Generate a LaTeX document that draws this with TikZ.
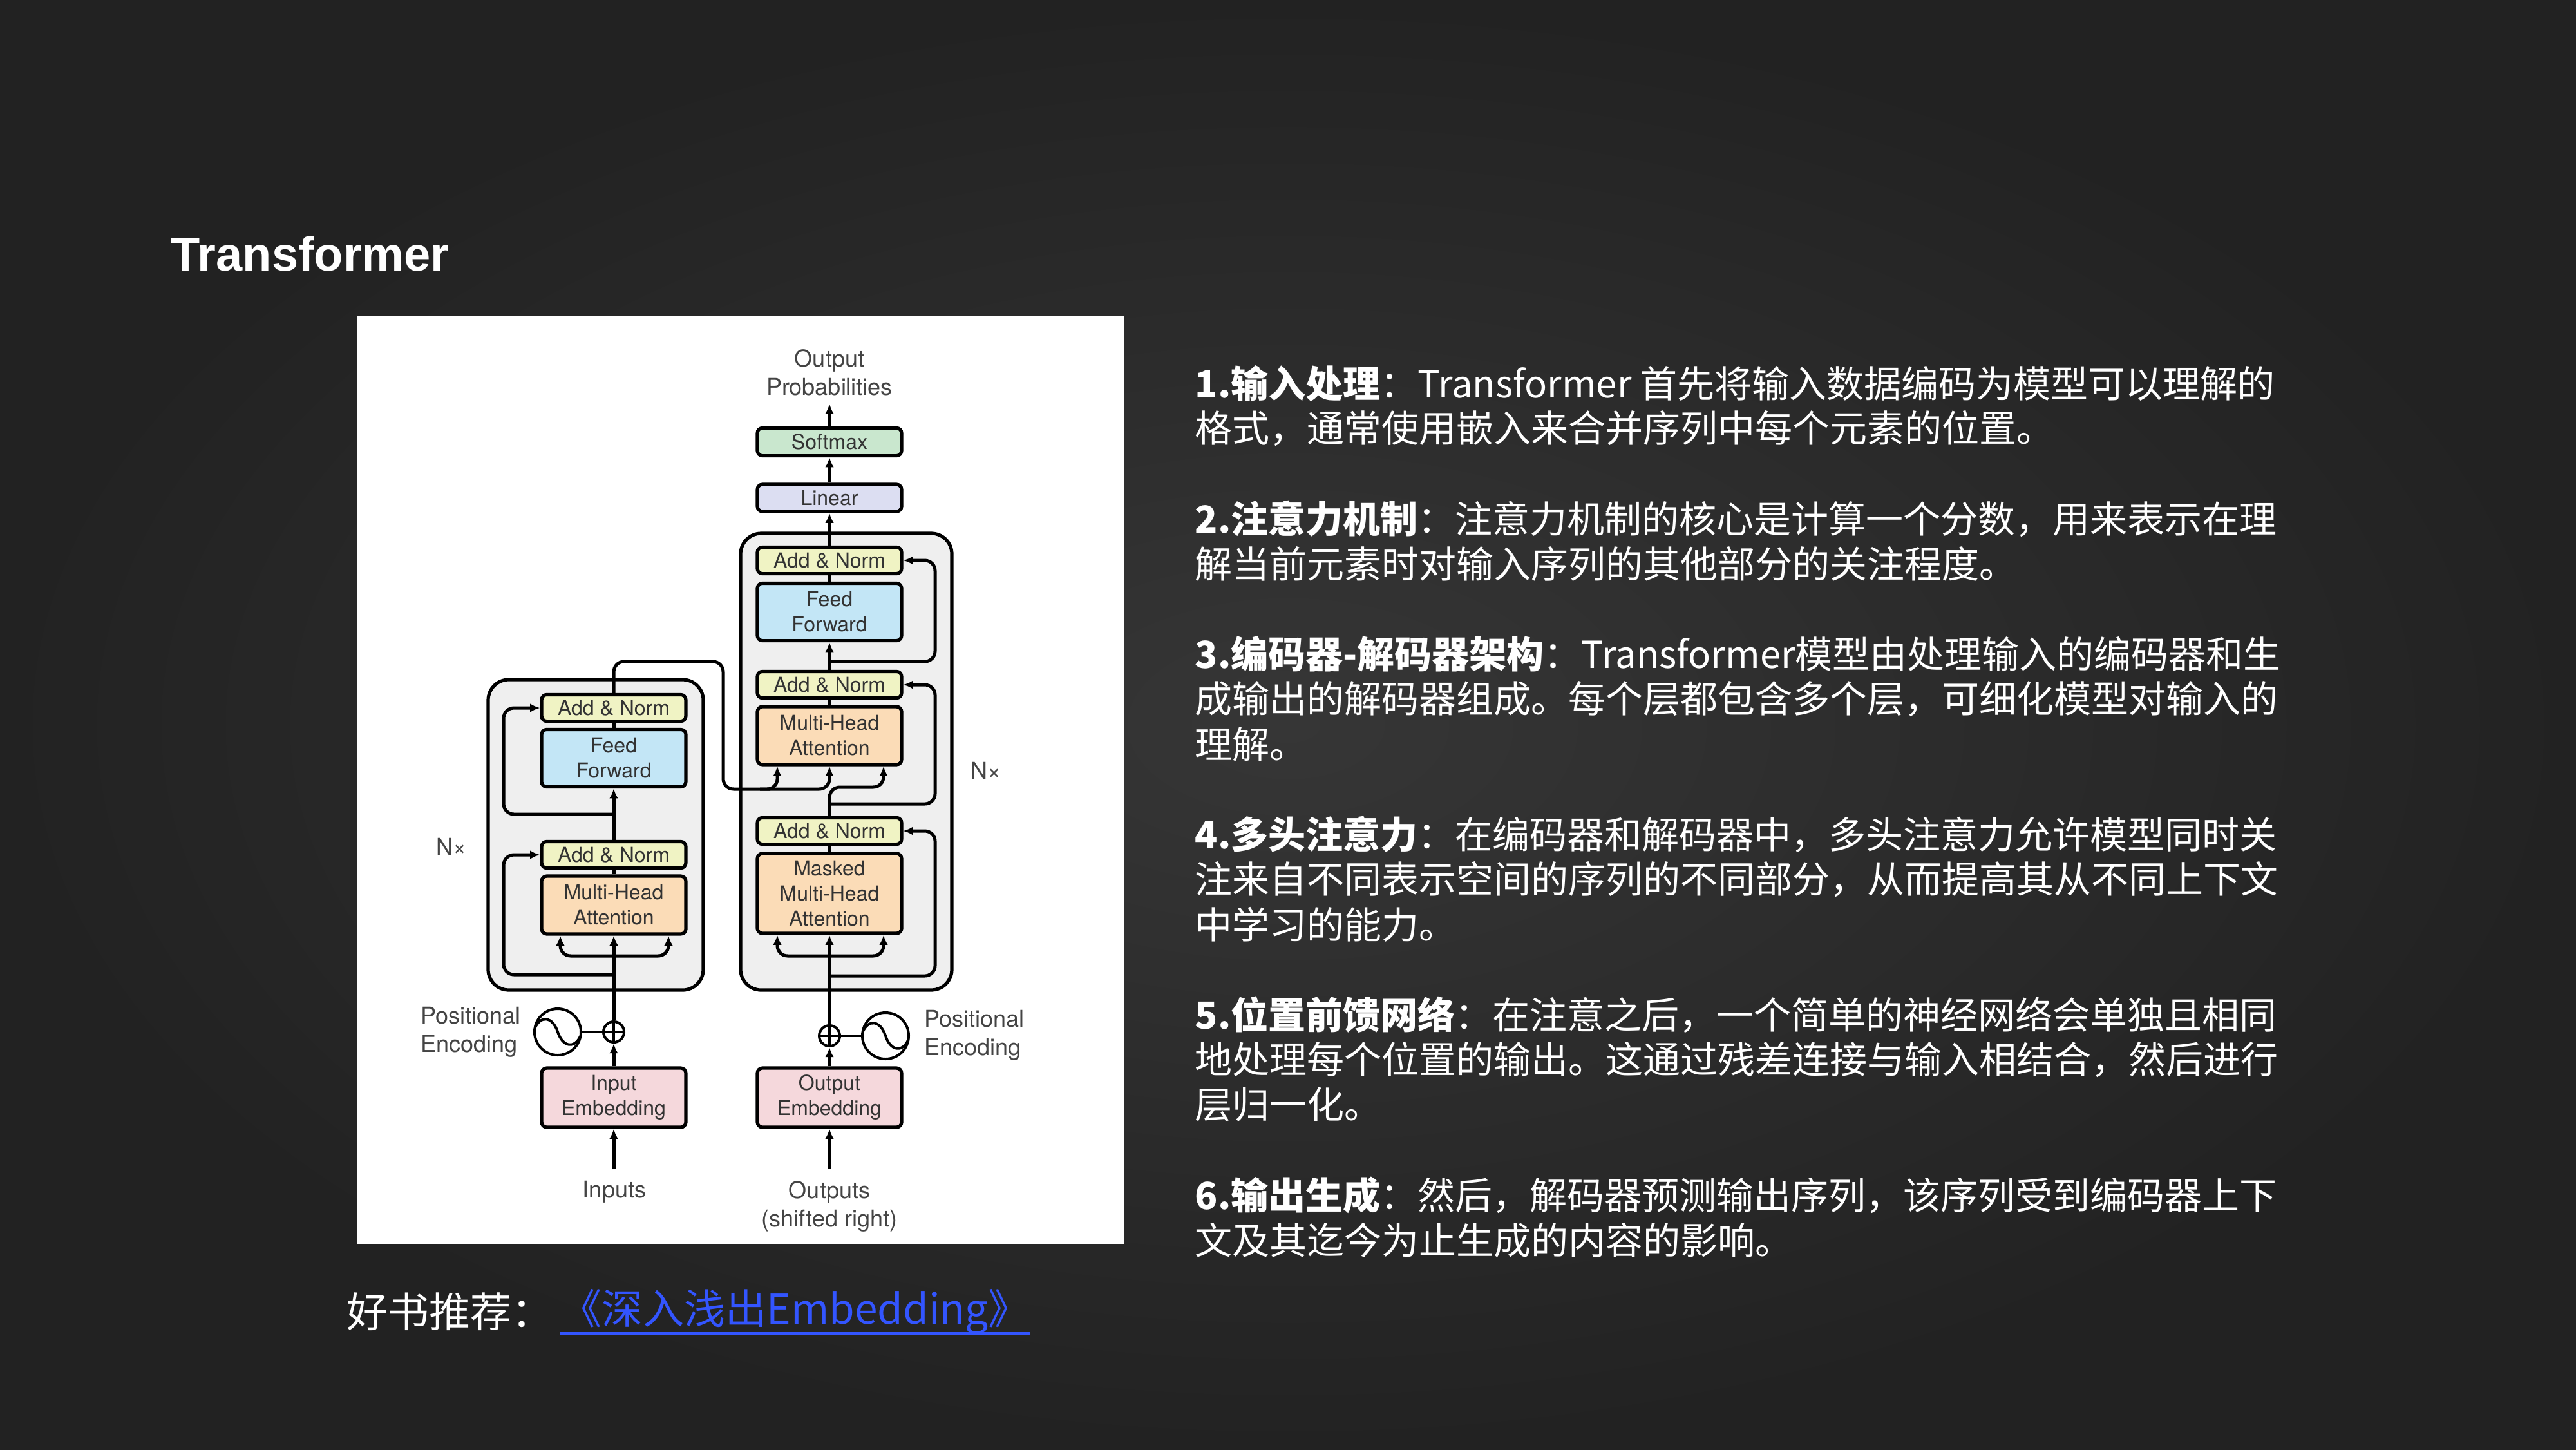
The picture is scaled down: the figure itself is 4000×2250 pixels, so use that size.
\documentclass[tikz,border=0pt]{standalone}
\usepackage{fontspec}
\setmainfont{TeX Gyre Heros}
\newfontfamily\cjk{Noto Sans CJK SC}
\newfontfamily\titlefont{Liberation Sans}
\newfontfamily\diag{TeX Gyre Heros}
\usetikzlibrary{arrows.meta,calc}
\definecolor{bgin}{HTML}{363636}
\definecolor{bgout}{HTML}{222222}
\definecolor{anc}{HTML}{F0F3C4}
\definecolor{ffc}{HTML}{C3E6F6}
\definecolor{attc}{HTML}{FBDCB7}
\definecolor{smc}{HTML}{C9E7CE}
\definecolor{linc}{HTML}{DCDEF2}
\definecolor{embc}{HTML}{F5D8DC}
\definecolor{blkc}{HTML}{EFEFEF}
\definecolor{txtc}{HTML}{333333}
\definecolor{lblc}{HTML}{444444}
\definecolor{linkc}{HTML}{3355FF}
\begin{document}
\begin{tikzpicture}[x=0.25pt,y=-0.25pt,
  lw/.style={line width=1.25pt},
  arr/.style={line width=1.25pt,-{Latex[length=3.8pt,width=3.4pt]}},
  rc/.style={rounded corners=4pt},
  blk/.style={draw=black, line width=1.3pt, rounded corners=2pt, minimum width=56pt, inner sep=0pt, align=center, text=txtc, font=\diag\fontsize{8}{9.75}\selectfont},
  anbox/.style={blk, fill=anc, minimum height=10.3pt},
  ffbox/.style={blk, fill=ffc, minimum height=22.3pt},
  attbox/.style={blk, fill=attc, minimum height=22.5pt},
  mattbox/.style={blk, fill=attc, minimum height=31pt},
  smbox/.style={blk, fill=smc, minimum height=10.8pt},
  linbox/.style={blk, fill=linc, minimum height=10.5pt},
  embbox/.style={blk, fill=embc, minimum height=23pt},
  outerbox/.style={draw=black, line width=1.3pt, fill=blkc, rounded corners=8pt, inner sep=0pt},
  lbl/.style={text=lblc, font=\diag\fontsize{9}{11}\selectfont, inner sep=0pt, align=center},
  plusnode/.style={circle, draw=black, line width=1pt, fill=white, minimum size=8pt, inner sep=0pt},
  penode/.style={circle, draw=black, line width=1pt, fill=white, minimum size=18pt, inner sep=0pt},
  para/.style={anchor=west, inner sep=0pt, text=white, font=\cjk\fontsize{14.5}{17.6}\selectfont},
]
% background
\shade[inner color=bgin, outer color=bgout] (0,0) rectangle (4000,2250);
\useasboundingbox (0,0) rectangle (4000,2250);

% title
\node[anchor=base west, inner sep=0pt, text=white, font=\titlefont\bfseries\fontsize{18.5}{22}\selectfont] (title) at (265,420) {Transformer};

% white panel
\node[fill=white, minimum width=297.75pt, minimum height=360pt, inner sep=0pt, anchor=north west] (panel) at (554,490) {};

% outer blocks
\node[outerbox, minimum width=83.5pt, minimum height=120.5pt] (encblk) at (925,1296) {};
\node[outerbox, minimum width=82pt, minimum height=177.25pt] (decblk) at (1314,1182.5) {};

% encoder boxes
\node[anbox] (enc_an2) at (953,1099) {Add \& Norm};
\node[ffbox] (enc_ff) at (953,1177) {Feed\\Forward};
\node[anbox] (enc_an1) at (953,1327) {Add \& Norm};
\node[attbox] (enc_mha) at (953,1405) {Multi-Head\\Attention};
\node[embbox] (in_emb) at (953,1704) {Input\\Embedding};

% decoder boxes
\node[anbox] (dec_an3) at (1288,870) {Add \& Norm};
\node[ffbox] (dec_ff) at (1288,950) {Feed\\Forward};
\node[anbox] (dec_an2) at (1288,1063) {Add \& Norm};
\node[attbox] (dec_mha) at (1288,1142) {Multi-Head\\Attention};
\node[anbox] (dec_an1) at (1288,1290) {Add \& Norm};
\node[mattbox] (dec_mmha) at (1288,1387) {Masked\\Multi-Head\\Attention};
\node[embbox] (out_emb) at (1288,1704) {Output\\Embedding};
\node[linbox] (linear) at (1288,773) {Linear};
\node[smbox] (softmax) at (1288,686) {Softmax};

% labels
\node[lbl] (outprob) at (1288,578) {Output\\Probabilities};
\coordinate (optip) at (1288,627);
\node[lbl, anchor=west, align=left] (enc_pe_lbl) at (653,1602) {Positional\\Encoding};
\node[lbl, anchor=west, align=left] (dec_pe_lbl) at (1435,1607) {Positional\\Encoding};
\node[lbl] (nx_l) at (701,1314) {N×};
\node[lbl] (nx_r) at (1531,1196) {N×};
\node[lbl] (inputs) at (954,1850) {Inputs};
\node[lbl] (outputs) at (1288,1873) {Outputs\\(shifted right)};
\coordinate (in_src) at (953,1815);
\coordinate (out_src) at (1288,1815);

% positional encoding
\node[penode] (enc_pe) at (866,1602) {};
\node[plusnode] (enc_plus) at (953,1602) {};
\node[penode] (dec_pe) at (1375,1608) {};
\node[plusnode] (dec_plus) at (1288,1608) {};
\draw[line width=1pt] (831,1595) .. controls (840,1576) and (858,1578) .. (866,1602) .. controls (874,1626) and (892,1628) .. (901,1609);
\draw[line width=1pt] (1340,1601) .. controls (1349,1582) and (1367,1584) .. (1375,1608) .. controls (1383,1632) and (1401,1634) .. (1410,1615);
\draw[line width=0.9pt] (enc_plus.north) -- (enc_plus.south) (enc_plus.west) -- (enc_plus.east);
\draw[line width=0.9pt] (dec_plus.north) -- (dec_plus.south) (dec_plus.west) -- (dec_plus.east);
\draw[line width=1.2pt] (enc_pe.east) -- (enc_plus.west);
\draw[line width=1.2pt] (dec_plus.east) -- (dec_pe.west);

% helper coordinates
\coordinate (ekL) at (870,1484);
\coordinate (ekR) at (1038,1484);
\coordinate (esplit) at (953,1484);
\coordinate (dkL) at (1207,1484);
\coordinate (dkM) at (1288,1484);
\coordinate (dkR) at (1372,1484);
\coordinate (dsplit) at (1288,1484);

% encoder connectors
\draw[arr] (in_src) -- (in_emb.south);
\draw[arr] (in_emb.north) -- (enc_plus.south);
\draw[arr] (enc_plus.north) -- (enc_mha.south);
\draw[arr, rc] (esplit) -| (ekL |- enc_mha.south);
\draw[arr, rc] (esplit) -| (ekR |- enc_mha.south);
\draw[arr, rc] (953,1513) -- (782,1513) |- (enc_an1.west);
\draw[lw] (enc_mha.north) -- (enc_an1.south);
\draw[arr] (enc_an1.north) -- (enc_ff.south);
\draw[arr, rc] (953,1264) -- (782,1264) |- (enc_an2.west);
\draw[lw] (enc_ff.north) -- (enc_an2.south);
\draw[arr, rc] (enc_an2.north) |- (1123,1027) |- (1180,1225) -| (dkL |- dec_mha.south);
\draw[arr, rc] (1180,1225) -| (dkM |- dec_mha.south);

% decoder connectors
\draw[arr] (out_src) -- (out_emb.south);
\draw[arr] (out_emb.north) -- (dec_plus.south);
\draw[arr] (dec_plus.north) -- (dec_mmha.south);
\draw[arr, rc] (dsplit) -| (dkL |- dec_mmha.south);
\draw[arr, rc] (dsplit) -| (dkR |- dec_mmha.south);
\draw[arr, rc] (1288,1515) -- (1452,1515) |- (dec_an1.east);
\draw[lw] (dec_mmha.north) -- (dec_an1.south);
\draw[arr, rc] (dec_an1.north) |- (1340,1222) -| (dkR |- dec_mha.south);
\draw[arr, rc] (1288,1248) -- (1452,1248) |- (dec_an2.east);
\draw[lw] (dec_mha.north) -- (dec_an2.south);
\draw[arr] (dec_an2.north) -- (dec_ff.south);
\draw[arr, rc] (1288,1027) -- (1452,1027) |- (dec_an3.east);
\draw[lw] (dec_ff.north) -- (dec_an3.south);
\draw[arr] (dec_an3.north) -- (linear.south);
\draw[arr] (linear.north) -- (softmax.south);
\draw[arr] (softmax.north) -- (optip);

% right-hand text
\node[para] (p1a) at (1855,595) {{\bfseries 1.输入处理}：Transformer 首先将输入数据编码为模型可以理解的};
\node[para] (p1b) at (1855,665) {格式，通常使用嵌入来合并序列中每个元素的位置。};
\node[para] (p2a) at (1855,805) {{\bfseries 2.注意力机制}：注意力机制的核心是计算一个分数，用来表示在理};
\node[para] (p2b) at (1855,875) {解当前元素时对输入序列的其他部分的关注程度。};
\node[para] (p3a) at (1855,1015) {{\bfseries 3.编码器-解码器架构}：Transformer模型由处理输入的编码器和生};
\node[para] (p3b) at (1855,1085) {成输出的解码器组成。每个层都包含多个层，可细化模型对输入的};
\node[para] (p3c) at (1855,1155) {理解。};
\node[para] (p4a) at (1855,1295) {{\bfseries 4.多头注意力}：在编码器和解码器中，多头注意力允许模型同时关};
\node[para] (p4b) at (1855,1365) {注来自不同表示空间的序列的不同部分，从而提高其从不同上下文};
\node[para] (p4c) at (1855,1435) {中学习的能力。};
\node[para] (p5a) at (1855,1575) {{\bfseries 5.位置前馈网络}：在注意之后，一个简单的神经网络会单独且相同};
\node[para] (p5b) at (1855,1645) {地处理每个位置的输出。这通过残差连接与输入相结合，然后进行};
\node[para] (p5c) at (1855,1715) {层归一化。};
\node[para] (p6a) at (1855,1855) {{\bfseries 6.输出生成}：然后，解码器预测输出序列，该序列受到编码器上下};
\node[para] (p6b) at (1855,1925) {文及其迄今为止生成的内容的影响。};

% book recommendation
\node[anchor=west, inner sep=0pt, text=white, font=\cjk\fontsize{16}{19}\selectfont] (book) at (538,2036) {好书推荐：};
\node[anchor=west, inner sep=0pt, text=linkc, font=\cjk\fontsize{16}{19}\selectfont] (link) at (870,2036) {《深入浅出Embedding》};
\draw[linkc, line width=1.1pt] ($(link.west)+(0,34)$) -- ($(link.east)+(0,34)$);
\end{tikzpicture}
\end{document}
